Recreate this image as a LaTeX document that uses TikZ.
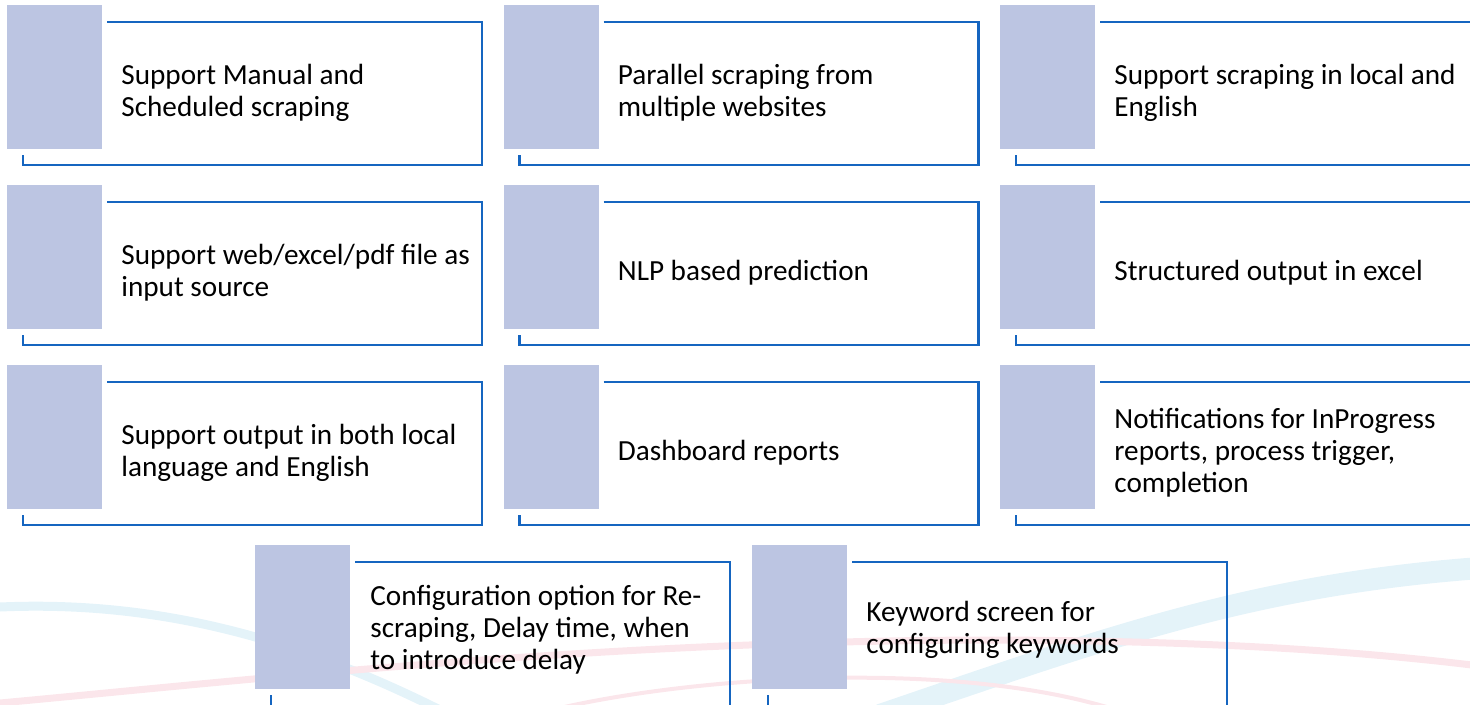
\documentclass[tikz,border=0pt]{standalone}
\usepackage{fontspec}
\setmainfont{Carlito}
\usepackage{xcolor}

\definecolor{frameblue}{RGB}{21,101,192}
\definecolor{tabfill}{RGB}{188,197,226}
\definecolor{swooshblue}{RGB}{228,243,249}
\definecolor{swooshpink}{RGB}{251,230,235}

\begin{document}
\begin{tikzpicture}[x=0.5pt,y=-0.5pt]
  \tikzset{
    tab/.style={fill=tabfill},
    frameline/.style={draw=frameblue, line width=1.1pt},
    feature/.style={anchor=west, align=left, inner sep=0pt,
      font=\fontsize{14.6}{16}\selectfont},
  }
  \useasboundingbox (0,0) rectangle (1470,705);
  \clip (0,0) rectangle (1470,705);

  % Background swooshes
  \draw[swooshblue, line width=4.5pt] (0,607) .. controls (160,600) and (300,640) .. (440,710);
  \draw[swooshblue, line width=11pt] (880,715) .. controls (1100,640) and (1250,585) .. (1480,568);
  \draw[swooshpink, line width=3.5pt] (0,703) .. controls (250,680) and (600,640) .. (1000,640)
    .. controls (1200,641) and (1350,650) .. (1480,666);
  \draw[swooshpink, line width=2pt] (560,708) .. controls (700,676) and (950,660) .. (1110,708);

  % Row 1
  \fill[tab] (7,5) rectangle ++(95,144);
  \draw[frameline] (107,22) -- (482,22) -- (482,165) -- (23,165) -- (23,155);
  \node[feature] (manual) at (121,93) {Support Manual and\\Scheduled scraping};

  \fill[tab] (503.5,5) rectangle ++(95,144);
  \draw[frameline] (603.5,22) -- (978.5,22) -- (978.5,165) -- (519.5,165) -- (519.5,155);
  \node[feature] (parallel) at (617.5,93) {Parallel scraping from\\multiple websites};

  \fill[tab] (1000,5) rectangle ++(95,144);
  \draw[frameline] (1100,22) -- (1475,22) -- (1475,165) -- (1016,165) -- (1016,155);
  \node[feature] (language) at (1114,93) {Support scraping in local and\\English};

  % Row 2
  \fill[tab] (7,185) rectangle ++(95,144);
  \draw[frameline] (107,202) -- (482,202) -- (482,345) -- (23,345) -- (23,335);
  \node[feature] (input) at (121,273) {Support web/excel/pdf file as\\input source};

  \fill[tab] (503.5,185) rectangle ++(95,144);
  \draw[frameline] (603.5,202) -- (978.5,202) -- (978.5,345) -- (519.5,345) -- (519.5,335);
  \node[feature] (nlp) at (617.5,273) {NLP based prediction};

  \fill[tab] (1000,185) rectangle ++(95,144);
  \draw[frameline] (1100,202) -- (1475,202) -- (1475,345) -- (1016,345) -- (1016,335);
  \node[feature] (excel) at (1114,273) {Structured output in excel};

  % Row 3
  \fill[tab] (7,365) rectangle ++(95,144);
  \draw[frameline] (107,382) -- (482,382) -- (482,525) -- (23,525) -- (23,515);
  \node[feature] (output) at (121,453) {Support output in both local\\language and English};

  \fill[tab] (503.5,365) rectangle ++(95,144);
  \draw[frameline] (603.5,382) -- (978.5,382) -- (978.5,525) -- (519.5,525) -- (519.5,515);
  \node[feature] (dashboard) at (617.5,453) {Dashboard reports};

  \fill[tab] (1000,365) rectangle ++(95,144);
  \draw[frameline] (1100,382) -- (1475,382) -- (1475,525) -- (1016,525) -- (1016,515);
  \node[feature] (notify) at (1114,453) {Notifications for InProgress\\reports, process trigger,\\completion};

  % Row 4 (cut off at the bottom)
  \fill[tab] (255,545) rectangle ++(95,144);
  \draw[frameline] (355,562) -- (730,562) -- (730,712) -- (271,712) -- (271,695);
  \node[feature] (config) at (370,630) {Configuration option for Re-\\scraping, Delay time, when\\to introduce delay};

  \fill[tab] (752,545) rectangle ++(95,144);
  \draw[frameline] (852,562) -- (1227,562) -- (1227,712) -- (768,712) -- (768,695);
  \node[feature] (keyword) at (866,630) {Keyword screen for\\configuring keywords};
\end{tikzpicture}
\end{document}
